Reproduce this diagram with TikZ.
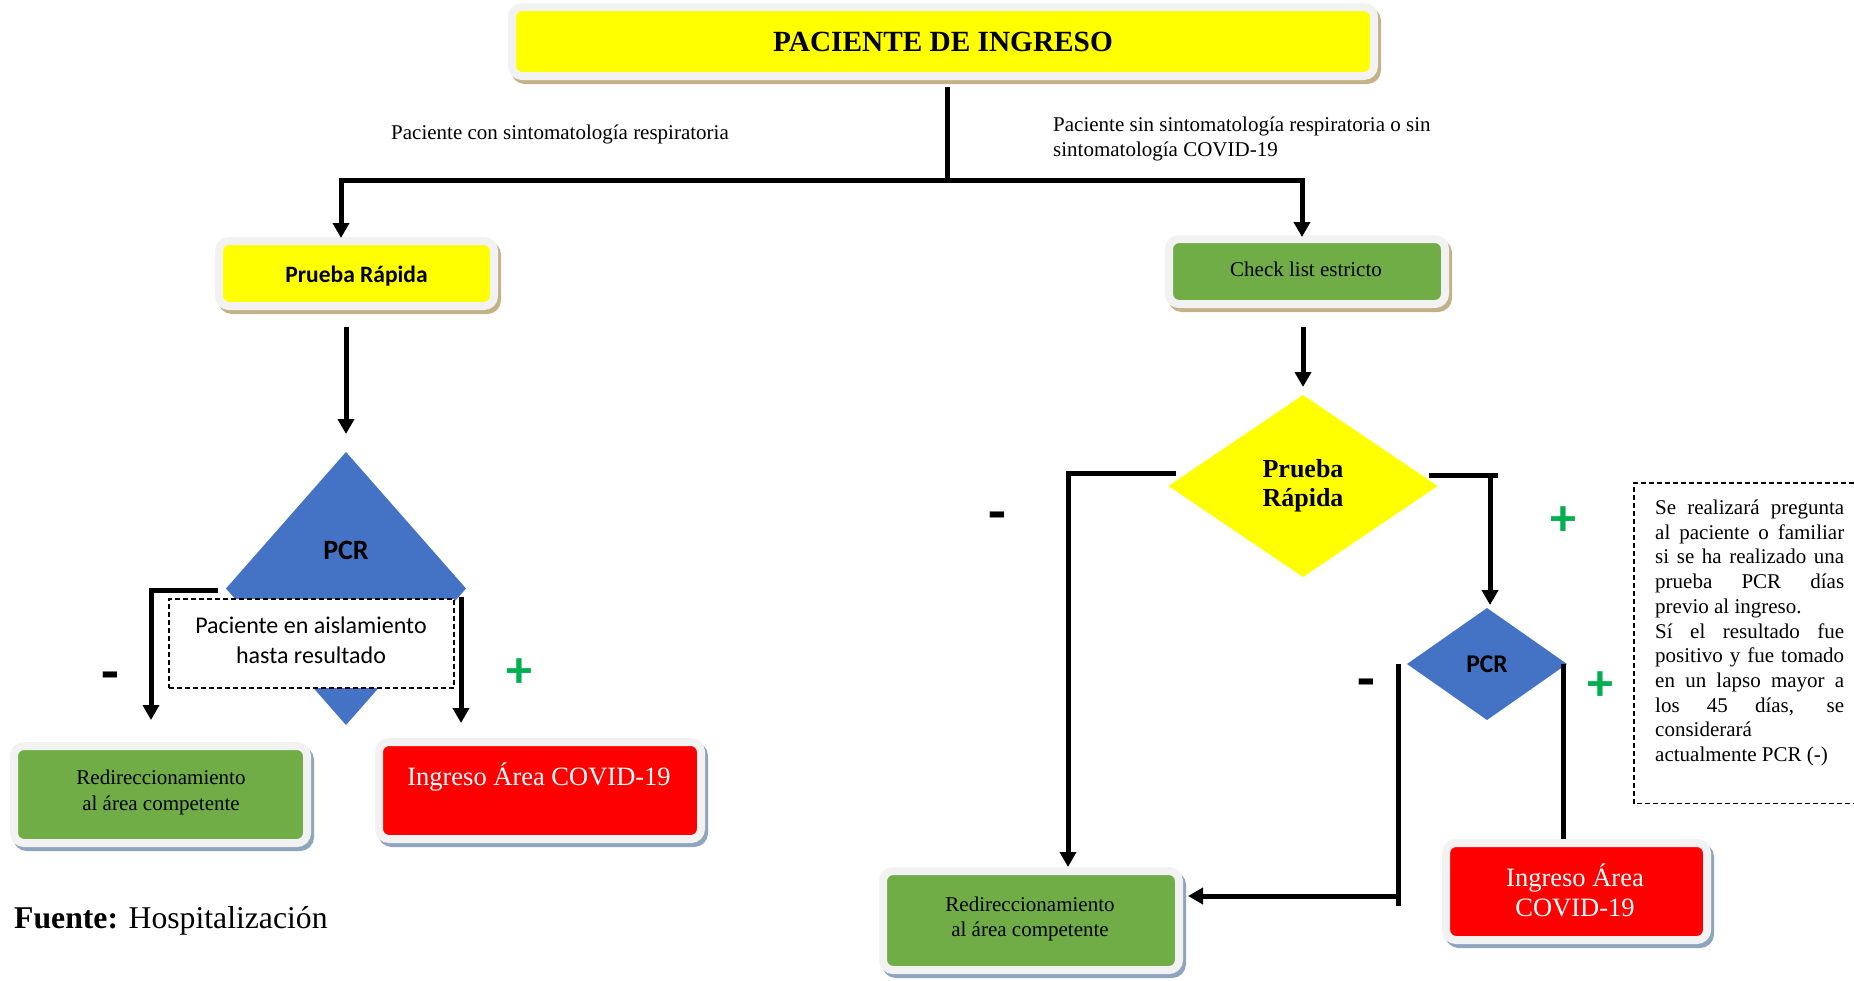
\documentclass[tikz,border=0pt]{standalone}
\usepackage{fontspec}
\setmainfont{Liberation Serif}
\newfontfamily\calib{Carlito}
\usetikzlibrary{arrows.meta,shapes.geometric,calc}
\definecolor{frameC}{HTML}{F2F2F2}
\definecolor{tanC}{HTML}{C3B287}
\definecolor{slateC}{HTML}{8FA5BE}
\definecolor{yelC}{HTML}{FFFF00}
\definecolor{grnC}{HTML}{70AD47}
\definecolor{redC}{HTML}{FF0000}
\definecolor{bluC}{HTML}{4472C4}
\definecolor{plusC}{HTML}{00B050}
\begin{document}
\begin{tikzpicture}[x=1pt,y=-1pt,
  boxbase/.style={rectangle, rounded corners=10pt, line width=8pt, draw=frameC, inner sep=0pt, outer sep=0pt},
  tanbox/.style={boxbase, preaction={draw=tanC, fill=tanC, line width=8pt, transform canvas={shift={(3pt,-4pt)}}}},
  slatebox/.style={boxbase, preaction={draw=slateC, fill=slateC, line width=8pt, transform canvas={shift={(3pt,-4pt)}}}},
  conn/.style={line width=5pt, draw=black},
  arr/.style={conn, -{Triangle[width=16pt,length=15pt]}},
  dia/.style={diamond, inner sep=0pt, outer sep=0pt, draw=none},
  minus/.style={font=\calib\bfseries\fontsize{58}{58}\selectfont, inner sep=0pt},
  plus/.style={font=\calib\bfseries\fontsize{52}{52}\selectfont, text=plusC, inner sep=0pt},
  dashbox/.style={dash pattern=on 5pt off 3pt, line width=1.6pt, draw=black},
  serif21/.style={font=\fontsize{21}{25}\selectfont},
]
\fill[white] (0,0) rectangle (1854,980);
\useasboundingbox (0,0) rectangle (1854,980);

% top
\node[tanbox, fill=yelC, minimum width=862pt, minimum height=69pt, font=\bfseries\fontsize{29.3}{34}\selectfont] (top) at (943,41.5) {PACIENTE DE INGRESO};
\node[serif21] (lblL) at (560,134.5) {Paciente con sintomatología respiratoria};
\node[serif21, anchor=west, align=left, inner sep=0pt] (lblR) at (1053,139) {Paciente sin sintomatología respiratoria o sin\\sintomatología COVID-19};

% second row
\node[tanbox, fill=yelC, minimum width=275pt, minimum height=65pt] (pr) at (356.5,273.5) {};
\node[font=\calib\bfseries\fontsize{23.5}{28}\selectfont] (prt) at (356.5,276) {Prueba Rápida};
\node[tanbox, fill=grnC, minimum width=276pt, minimum height=65pt] (chk) at (1307,271.5) {};
\node[serif21] (chkt) at (1306,269) {Check list estricto};

% left diamond
\node[dia, fill=bluC, minimum width=240pt, minimum height=273pt] (pcrL) at (346,588.5) {};
\node[font=\calib\bfseries\fontsize{28}{34}\selectfont] (pcrLt) at (346,550) {PCR};
\node[dashbox, fill=white, minimum width=285pt, minimum height=89pt, inner sep=0pt] (aisl) at (311.5,643.5) {};
\node[align=center, font=\calib\fontsize{24}{29.5}\selectfont] (aislt) at (311,640) {Paciente en aislamiento\\hasta resultado};

% left bottom boxes
\node[slatebox, fill=grnC, minimum width=293pt, minimum height=97pt] (redL) at (160.5,794.5) {};
\node[font=\fontsize{21}{26}\selectfont, align=center] (redLt) at (161,792.5) {Redireccionamiento\\al área competente};
\node[slatebox, fill=redC, minimum width=322pt, minimum height=97pt] (ingL) at (540,790.5) {};
\node[font=\fontsize{26.5}{32}\selectfont, text=white] (ingLt) at (539,777) {Ingreso Área COVID-19};

% right side
\node[dia, fill=yelC, minimum width=269pt, minimum height=182pt, align=center, font=\bfseries\fontsize{26}{29}\selectfont] (prR) at (1303,486) {Prueba\\Rápida};
\node[dia, fill=bluC, minimum width=160pt, minimum height=112pt, font=\calib\bfseries\fontsize{25.5}{30}\selectfont] (pcrR) at (1487,664) {PCR};
\node[slatebox, fill=grnC, minimum width=296pt, minimum height=99pt] (redR) at (1031,920.5) {};
\node[font=\fontsize{21}{25}\selectfont, align=center] (redRt) at (1030,919) {Redireccionamiento\\al área competente};
\node[slatebox, fill=redC, minimum width=261pt, minimum height=97pt] (ingR) at (1576.5,891.5) {};
\node[font=\fontsize{26.5}{29.5}\selectfont, text=white, align=center] (ingRt) at (1575,890.5) {Ingreso Área\\COVID-19};

% note box
\node[minimum width=220pt, minimum height=320pt, anchor=north west, inner sep=0pt] (nbox) at (1634,483) {};
\draw[dashbox] (nbox.north east) -- (nbox.north west) -- (nbox.south west) -- (nbox.south east);
\node[anchor=north west, inner sep=0pt, align=left, font=\fontsize{21}{24.7}\selectfont] (note) at (1655,497) {\strut\makebox[189pt][s]{Se realizará pregunta}\\
\makebox[189pt][s]{al paciente o familiar}\\
\makebox[189pt][s]{si se ha realizado una}\\
\makebox[189pt][s]{prueba PCR días}\\
previo al ingreso.\\
\makebox[189pt][s]{Sí el resultado fue}\\
\makebox[189pt][s]{positivo y fue tomado}\\
\makebox[189pt][s]{en un lapso mayor a}\\
\makebox[189pt][s]{los 45 días, se}\\
considerará\\
actualmente PCR (-)};

% signs
\node[minus] (m1) at (110,681.5) {-};
\node[plus] (p1) at (519,673) {+};
\node[minus] (m2) at (997,522) {-};
\node[plus] (p2) at (1563,521) {+};
\node[minus] (m3) at (1366,688.5) {-};
\node[plus] (p3) at (1600,686) {+};

% source
\node[anchor=west, inner sep=0pt, font=\fontsize{31.7}{36}\selectfont] (src) at (14,920.5) {\textbf{Fuente:} Hospitalización};

% connectors
\coordinate (j) at (947,180);
\coordinate (jl) at (341,180);
\coordinate (jr) at (1302,180);
\draw[conn] ($(top.south -| j)+(0,11)$) -- (j);
\draw[arr] (j) -| ($(pr.north -| jl)+(0,-3)$);
\draw[arr] (j) -| ($(chk.north -| jr)+(0,-2)$);
\draw[arr] ($(pr.south -| pcrL)+(0,21)$) -- ($(pcrL.north)+(0,-18)$);
\draw[arr] ($(chk.south -| prR)+(0,23)$) -- ($(prR.north)+(0,-8)$);

\coordinate (lbr) at (151,720);
\draw[arr] ($(pcrL.west)+(-8,1.5)$) -| (lbr);
\coordinate (rbr) at (461,723);
\draw[arr] ($(pcrL.east -| rbr)+(0,8)$) -- (rbr);

\coordinate (lb2) at (1068,867);
\draw[arr] ($(prR.west)+(7,-13)$) -| (lb2);
\draw[conn] ($(prR.east)+(-9,-11)$) -- ++(69,0);
\coordinate (rb2) at (1490,605);
\draw[arr] ($(prR.east -| rb2)+(0,-9)$) -- (rb2);

\coordinate (lb3) at (1398,906);
\draw[conn] (pcrR.west -| lb3) -- (lb3);
\coordinate (h3) at (1398,896);
\draw[arr] (h3) -- ($(redR.east |- h3)+(9,0)$);
\coordinate (rb3) at (1563,839);
\draw[conn] (pcrR.east -| rb3) -- (rb3);
\end{tikzpicture}
\end{document}
